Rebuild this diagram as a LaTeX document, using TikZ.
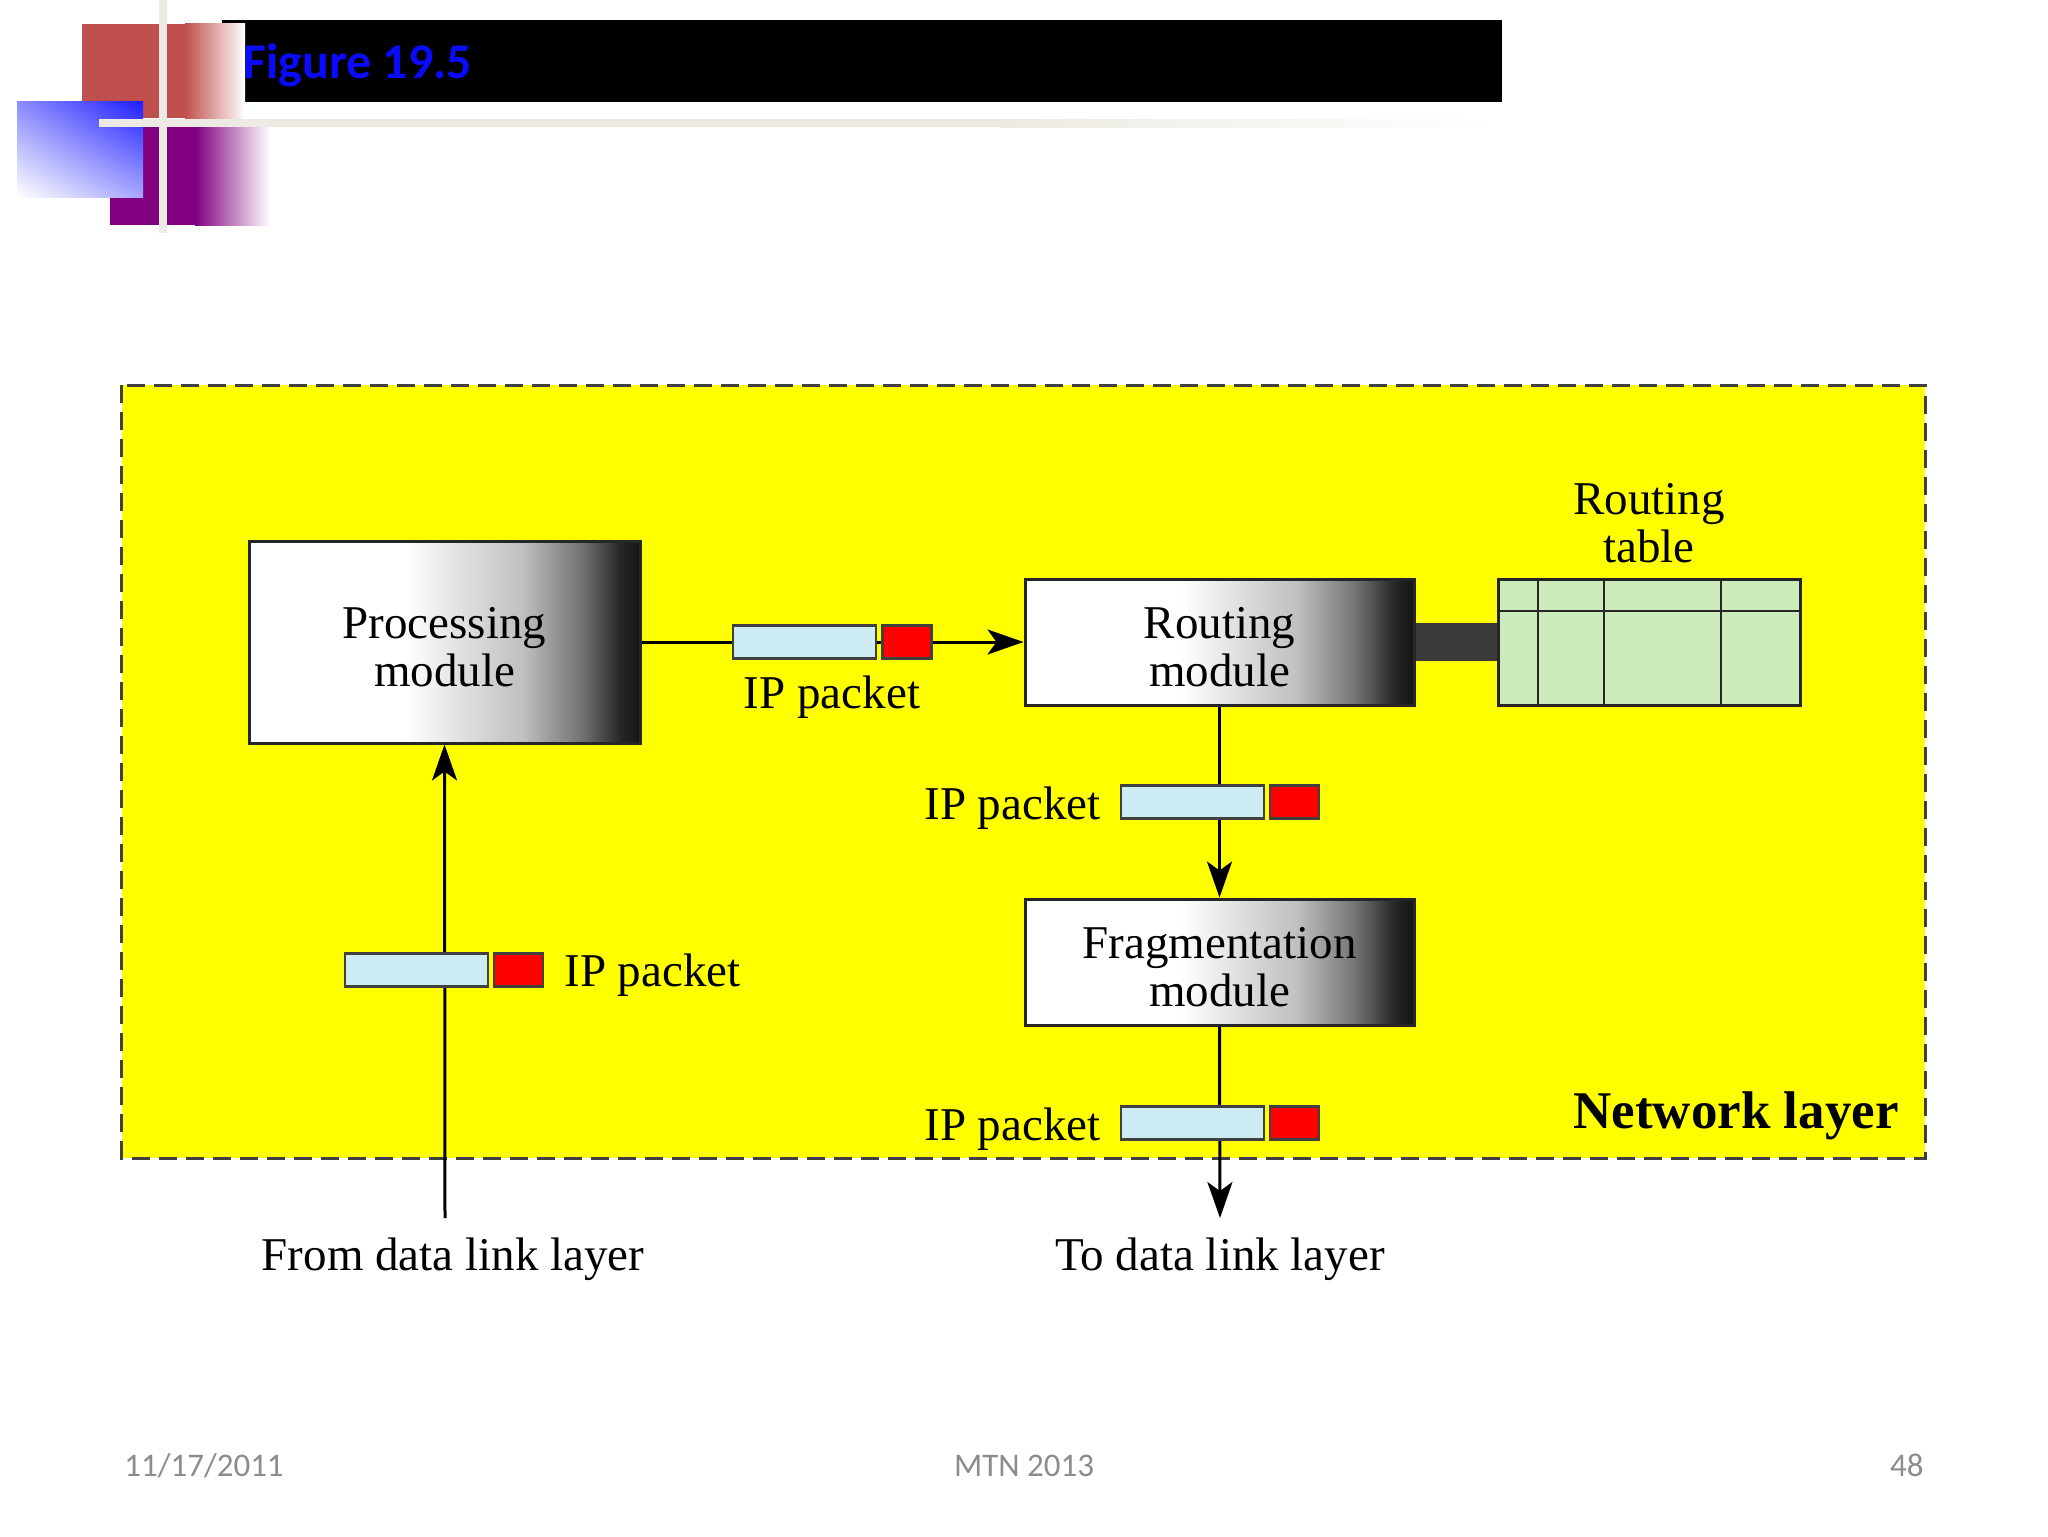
\documentclass[tikz,border=0pt]{standalone}
\usepackage{fontspec}
\setmainfont{Liberation Serif}
\newfontfamily\calib{Carlito}
\usetikzlibrary{arrows.meta,shadings}
\definecolor{decored}{HTML}{C0504D}
\definecolor{decopurple}{HTML}{800080}
\definecolor{decoline}{HTML}{ECEAE2}
\definecolor{titleblue}{HTML}{0A0AFF}
\definecolor{pktblue}{HTML}{CCEBF3}
\definecolor{tablegreen}{HTML}{CCEBBB}
\definecolor{darkbar}{HTML}{3A3A3A}
\definecolor{footgray}{HTML}{8C8C8C}
\definecolor{netyellow}{HTML}{FFFF00}
\pgfdeclarehorizontalshading{modshade}{100bp}{color(0bp)=(white); color(45bp)=(white); color(60bp)=(black!25); color(67.5bp)=(black!55); color(72.5bp)=(black!85); color(75bp)=(black!92); color(100bp)=(black!92)}
\tikzset{
  modbox/.style={draw=black!85, line width=1.5pt, shading=modshade, inner sep=0pt, minimum width=194.5pt, minimum height=63pt},
  dtext/.style={font=\fontsize{23.5pt}{24pt}\selectfont, align=center, inner sep=0pt, yshift=-2.5pt},
  pktbody/.style={draw=black!75, line width=1.3pt, fill=pktblue, minimum width=71.5pt, minimum height=16.5pt, inner sep=0pt},
  pkthead/.style={draw=black!75, line width=1.3pt, fill=red, minimum width=24.5pt, minimum height=16.5pt, inner sep=0pt},
  conn/.style={line width=1.5pt, black},
  arr/.style={conn, -{Stealth[length=18pt, width=12.5pt, inset=4.5pt]}},
  foot/.style={font=\fontsize{16.5pt}{20pt}\calib, text=footgray, inner sep=0pt},
}
\begin{document}
\begin{tikzpicture}[x=0.5pt, y=-0.5pt]
\useasboundingbox[fill=white] (0,0) rectangle (2048,1536);
% --- slide decoration ---
\fill[black] (222,20) rectangle (1502,102);
\fill[decored] (82,24) rectangle (185,118);
\shade[left color=decored, right color=white] (185,24) rectangle (245,118);
\fill[decopurple] (110,127) rectangle (195,225);
\shade[left color=decopurple, right color=white] (195,127) rectangle (270,225);
\shade[upper left=blue!45, upper right=blue!88, lower left=white, lower right=blue!35] (17,102) rectangle (143,197);
\fill[decoline] (159,0) rectangle (167,233);
\fill[decoline] (99,119) rectangle (1000,127);
\shade[left color=decoline, right color=white] (1000,119) rectangle (1500,127);
\node[anchor=base west, inner sep=0pt, font=\fontsize{25pt}{30pt}\calib\bfseries, text=titleblue] (title) at (243,79) {Figure 19.5};
% --- network layer box ---
\draw[fill=netyellow, draw=black!75, line width=1.5pt, dash pattern=on 9pt off 4.5pt] (121.5,385) rectangle (1925,1158);
\node[anchor=east, inner sep=0pt, font=\fontsize{26.5pt}{30pt}\selectfont\bfseries] (netlbl) at (1899,1116) {Network layer};
% --- modules ---
\node[modbox, minimum width=195.5pt, minimum height=101pt] (proc) at (444.5,642) {};
\node[dtext] (proctxt) at (proc.center) {Processing\\module};
\node[modbox] (route) at (1219.5,642) {};
\node[dtext] (routetxt) at (route.center) {Routing\\module};
\node[modbox] (frag) at (1219.5,962) {};
\node[dtext] (fragtxt) at (frag.center) {Fragmentation\\module};
\node[draw=black!85, line width=1.5pt, fill=tablegreen, minimum width=151pt, minimum height=63pt, inner sep=0pt] (rtab) at (1649,642) {};
\draw[line width=1.3pt, black!85] (1498,611) -- (1800,611);
\draw[line width=1.3pt, black!85] (1538,579) -- (1538,705);
\draw[line width=1.3pt, black!85] (1604,579) -- (1604,705);
\draw[line width=1.3pt, black!85] (1721,579) -- (1721,705);
\node[dtext] (rtablbl) at (1649,518) {Routing\\table};
\draw[line width=19pt, darkbar] (route.east) -- (rtab.west);
% --- connectors ---
\coordinate (fromdl) at (445,1218);
\coordinate (todl) at (1220,1218);
\draw[arr] (proc.east) -- (route.west);
\draw[arr] (route.south) -- (frag.north);
\draw[arr] (frag.south) -- (todl);
\draw[arr] (fromdl) -- (proc.south);
% --- packets ---
\node[pktbody] (p1b) at (804.5,642) {};
\node[pkthead] (p1h) at (907,642) {};
\node[dtext] (p1l) at (832,692) {IP packet};
\node[pktbody] (p2b) at (1192.5,802) {};
\node[pkthead] (p2h) at (1294.5,802) {};
\node[dtext, anchor=east] (p2l) at (1101,803) {IP packet};
\node[pktbody] (p3b) at (1192.5,1123) {};
\node[pkthead] (p3h) at (1294.5,1123) {};
\node[dtext, anchor=east] (p3l) at (1101,1124) {IP packet};
\node[pktbody] (p4b) at (416.5,970) {};
\node[pkthead] (p4h) at (518.5,970) {};
\node[dtext, anchor=west] (p4l) at (564,970) {IP packet};
% --- outside labels ---
\node[dtext] (fromlbl) at (453,1254) {From data link layer};
\node[dtext] (tolbl) at (1220,1254) {To data link layer};
% --- footer ---
\node[foot, anchor=base west] (fdate) at (124,1476) {11/17/2011};
\node[foot, anchor=base] (fmid) at (1024,1476) {MTN 2013};
\node[foot, anchor=base east] (fpage) at (1924,1476) {48};
\end{tikzpicture}
\end{document}
